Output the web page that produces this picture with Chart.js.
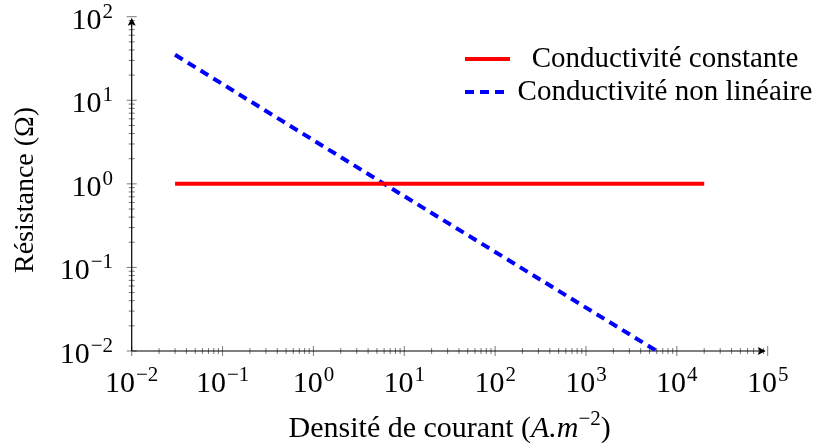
<!DOCTYPE html>
<html>
<head>
<meta charset="utf-8">
<script src="https://cdn.jsdelivr.net/npm/chart.js@4"></script>
<style>
  body { margin: 0; background: #fff; }
  canvas { display: block; }
</style>
</head>
<body>
<canvas id="chart" width="815" height="443"></canvas>
<script>
// current density (A.m^-2) and resistance (ohm)
const densConst = [0.03, 20000];
const resConst = [1, 1];
const densNonLin = [0.03, 6, 6000];
const resNonLin = [35, 1, 0.01];

const seriesNames = ["Conductivité constante", "Conductivité non linéaire"];
const seriesColors = ["#ff0000", "#0000ff"];

const xTickExp = [-2, -1, 0, 1, 2, 3, 4, 5];
const yTickExp = [-2, -1, 0, 1, 2];

const SERIF = "'Liberation Serif', 'DejaVu Serif', serif";

function toPoints(xs, ys) {
    return xs.map((x, i) => ({ x: x, y: ys[i] }));
}

function supText(exp) {
    return exp < 0 ? "\u2212" + Math.abs(exp) : String(exp);
}

// draws 10^exp, anchored by left x and baseline y
function drawPow(ctx, exp, left, base) {
    ctx.textAlign = "left";
    ctx.textBaseline = "alphabetic";
    ctx.font = "30px " + SERIF;
    ctx.fillText("10", left, base);
    let w = ctx.measureText("10").width;
    ctx.font = "21px " + SERIF;
    ctx.fillText(supText(exp), left + w + 1, base - 11);
}

function powWidth(ctx, exp) {
    ctx.font = "30px " + SERIF;
    let w = ctx.measureText("10").width;
    ctx.font = "21px " + SERIF;
    return w + 1 + ctx.measureText(supText(exp)).width;
}

const axesPlugin = {
    id: "axesPlugin",
    beforeDatasetsDraw(chart) {
        const ctx = chart.ctx;
        const xs = chart.scales.x, ys = chart.scales.y;
        const a = chart.chartArea;
        ctx.save();

        // ticks
        ctx.strokeStyle = "#7a7a7a";
        ctx.lineWidth = 1;
        ctx.beginPath();
        xTickExp.forEach((e, i) => {
            let px = xs.getPixelForValue(Math.pow(10, e));
            ctx.moveTo(px, a.bottom - 5); ctx.lineTo(px, a.bottom + 5);
            if (i < xTickExp.length - 1) {
                for (let m = 2; m <= 9; m++) {
                    let mx = xs.getPixelForValue(m * Math.pow(10, e));
                    ctx.moveTo(mx, a.bottom - 3); ctx.lineTo(mx, a.bottom + 3);
                }
            }
        });
        yTickExp.forEach((e, i) => {
            let py = ys.getPixelForValue(Math.pow(10, e));
            ctx.moveTo(a.left - 5, py); ctx.lineTo(a.left + 5, py);
            if (i < yTickExp.length - 1) {
                for (let m = 2; m <= 9; m++) {
                    let my = ys.getPixelForValue(m * Math.pow(10, e));
                    ctx.moveTo(a.left - 3, my); ctx.lineTo(a.left + 3, my);
                }
            }
        });
        ctx.stroke();

        // axis lines with arrows
        ctx.strokeStyle = "#000";
        ctx.fillStyle = "#000";
        ctx.lineWidth = 1.2;
        ctx.beginPath();
        ctx.moveTo(a.left, a.bottom); ctx.lineTo(a.right - 3, a.bottom);
        ctx.moveTo(a.left, a.bottom); ctx.lineTo(a.left, a.top + 3);
        ctx.stroke();
        ctx.beginPath();
        ctx.moveTo(a.right - 2, a.bottom);
        ctx.lineTo(a.right - 10, a.bottom - 4);
        ctx.lineTo(a.right - 8, a.bottom);
        ctx.lineTo(a.right - 10, a.bottom + 4);
        ctx.closePath();
        ctx.moveTo(a.left, a.top + 1);
        ctx.lineTo(a.left - 4, a.top + 9);
        ctx.lineTo(a.left, a.top + 7);
        ctx.lineTo(a.left + 4, a.top + 9);
        ctx.closePath();
        ctx.fill();

        // tick labels
        ctx.fillStyle = "#000";
        xTickExp.forEach(e => {
            let px = xs.getPixelForValue(Math.pow(10, e));
            drawPow(ctx, e, px - powWidth(ctx, e) / 2, a.bottom + 41);
        });
        yTickExp.forEach(e => {
            let py = ys.getPixelForValue(Math.pow(10, e));
            drawPow(ctx, e, 113 - powWidth(ctx, e), py + 12);
        });

        // x title
        const parts = [
            { t: "Densité de courant (", f: "30px " + SERIF, dy: 0 },
            { t: "A.m", f: "italic 30px " + SERIF, dy: 0 },
            { t: "\u22122", f: "21px " + SERIF, dy: -12 },
            { t: ")", f: "30px " + SERIF, dy: 0 }
        ];
        let total = 0;
        parts.forEach(p => { ctx.font = p.f; p.w = ctx.measureText(p.t).width; total += p.w; });
        let cx = (a.left + a.right) / 2 - total / 2;
        ctx.textAlign = "left";
        ctx.textBaseline = "alphabetic";
        parts.forEach(p => { ctx.font = p.f; ctx.fillText(p.t, cx, 437 + p.dy); cx += p.w; });

        // y title
        ctx.save();
        ctx.translate(33, 273);
        ctx.rotate(-Math.PI / 2);
        ctx.font = "28px " + SERIF;
        ctx.textAlign = "left";
        ctx.fillText("Résistance (Ω)", 0, 0);
        ctx.restore();

        ctx.restore();
    },
    afterDraw(chart) {
        const ctx = chart.ctx;
        ctx.save();
        const rows = [59, 92];
        seriesNames.forEach((name, i) => {
            ctx.strokeStyle = seriesColors[i];
            ctx.lineWidth = 4;
            ctx.setLineDash(i === 1 ? [9, 6] : []);
            ctx.beginPath();
            ctx.moveTo(465, rows[i]);
            ctx.lineTo(i === 1 ? 507 : 510, rows[i]);
            ctx.stroke();
            ctx.setLineDash([]);
            ctx.fillStyle = "#000";
            ctx.font = "29px " + SERIF;
            ctx.textAlign = "center";
            ctx.textBaseline = "alphabetic";
            ctx.fillText(name, 665, rows[i] + 8);
        });
        ctx.restore();
    }
};

new Chart(document.getElementById("chart"), {
    type: "line",
    data: {
        datasets: [
            {
                label: seriesNames[0],
                data: toPoints(densConst, resConst),
                borderColor: seriesColors[0],
                borderWidth: 4,
                pointRadius: 0,
                fill: false
            },
            {
                label: seriesNames[1],
                data: toPoints(densNonLin, resNonLin),
                borderColor: seriesColors[1],
                borderWidth: 4,
                borderDash: [9, 6],
                pointRadius: 0,
                fill: false
            }
        ]
    },
    options: {
        responsive: false,
        animation: false,
        layout: { padding: { left: 131.7, right: 47.3, top: 16.7, bottom: 92 } },
        scales: {
            x: { type: "logarithmic", min: 0.01, max: 100000, display: false },
            y: { type: "logarithmic", min: 0.01, max: 100, display: false }
        },
        plugins: {
            legend: { display: false },
            tooltip: { enabled: false }
        }
    },
    plugins: [axesPlugin]
});
</script>
</body>
</html>
